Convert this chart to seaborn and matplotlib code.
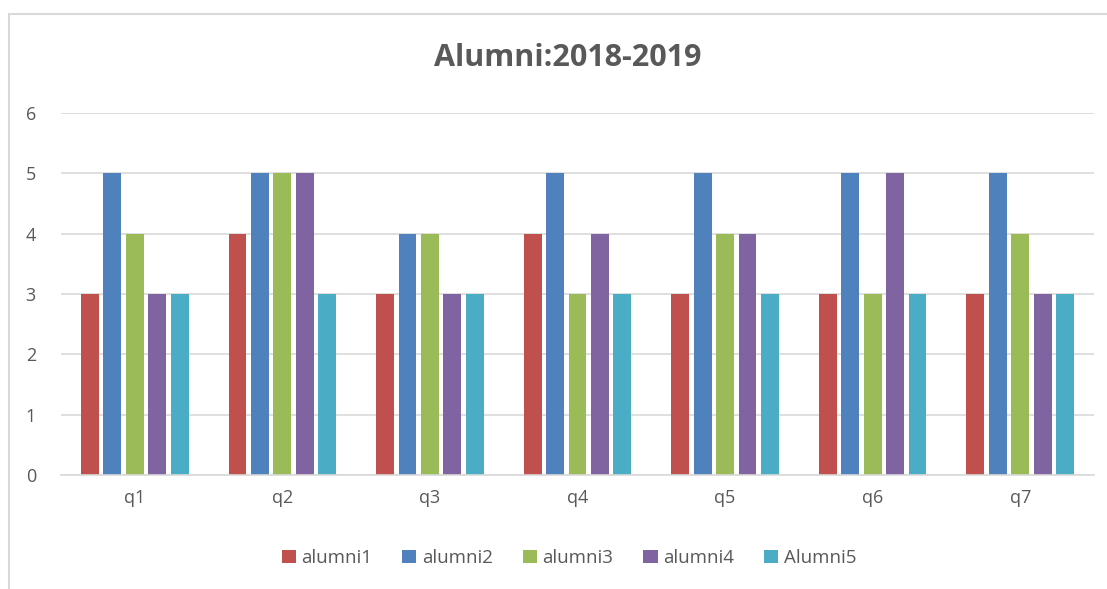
import pandas as pd
import matplotlib
matplotlib.use("Agg")
import matplotlib.pyplot as plt
from matplotlib.patches import Rectangle
import seaborn as sns

# Data
questions = ["q1", "q2", "q3", "q4", "q5", "q6", "q7"]
series_names = ["alumni1", "alumni2", "alumni3", "alumni4", "Alumni5"]
alumni1 = [3, 4, 3, 4, 3, 3, 3]
alumni2 = [5, 5, 4, 5, 5, 5, 5]
alumni3 = [4, 5, 4, 3, 4, 3, 4]
alumni4 = [3, 5, 3, 4, 4, 5, 3]
alumni5 = [3, 3, 3, 3, 3, 3, 3]
colors = ["#C0504D", "#4F81BD", "#9BBB59", "#8064A2", "#4BACC6"]

# Long-form table for seaborn
rows = []
for name, vals in zip(series_names, [alumni1, alumni2, alumni3, alumni4, alumni5]):
    for q, v in zip(questions, vals):
        rows.append({"question": q, "series": name, "value": v})
df = pd.DataFrame(rows)

sns.set_style("white")
plt.rcParams["font.family"] = ["Open Sans", "DejaVu Sans"]

fig = plt.figure(figsize=(11.07, 5.89), dpi=100)
ax = fig.add_axes([61 / 1107, 1 - 475 / 589, (1094 - 61) / 1107, (475 - 113) / 589])

sns.barplot(data=df, x="question", y="value", hue="series", order=questions,
            hue_order=series_names, palette=colors, width=0.76, gap=0.2,
            saturation=1, linewidth=0, ax=ax, legend=True)

ax.set_ylim(0, 6)
ax.set_yticks(range(0, 7))
ax.yaxis.grid(True, color="#D9D9D9", linewidth=1.2)
ax.set_axisbelow(True)
for side in ["top", "right", "left"]:
    ax.spines[side].set_visible(False)
ax.spines["bottom"].set_color("#D9D9D9")
ax.spines["bottom"].set_linewidth(1.2)
ax.tick_params(axis="both", length=0, labelsize=13, colors="#595959", pad=10)
ax.tick_params(axis="y", pad=18)
ax.set_xlabel("")
ax.set_ylabel("")

handles, labels = ax.get_legend_handles_labels()
ax.get_legend().remove()
fig.legend(handles, labels, loc="center", bbox_to_anchor=(0.514, 1 - 558 / 589),
           ncol=5, frameon=False, fontsize=13.5, handlelength=0.75, handleheight=0.75,
           handletextpad=0.3, columnspacing=1.6, labelcolor="#595959")

fig.suptitle("Alumni:2018-2019", x=0.513, y=1 - 58 / 589, va="center",
             fontsize=22, fontweight="bold", color="#595959")

# chart border
fig.patches.append(Rectangle((9 / 1107, -0.1), 1.2, 1 - 14 / 589 + 0.1,
                             transform=fig.transFigure, fill=False,
                             edgecolor="#D9D9D9", linewidth=1.5))

fig.savefig("out.png", dpi=100)
